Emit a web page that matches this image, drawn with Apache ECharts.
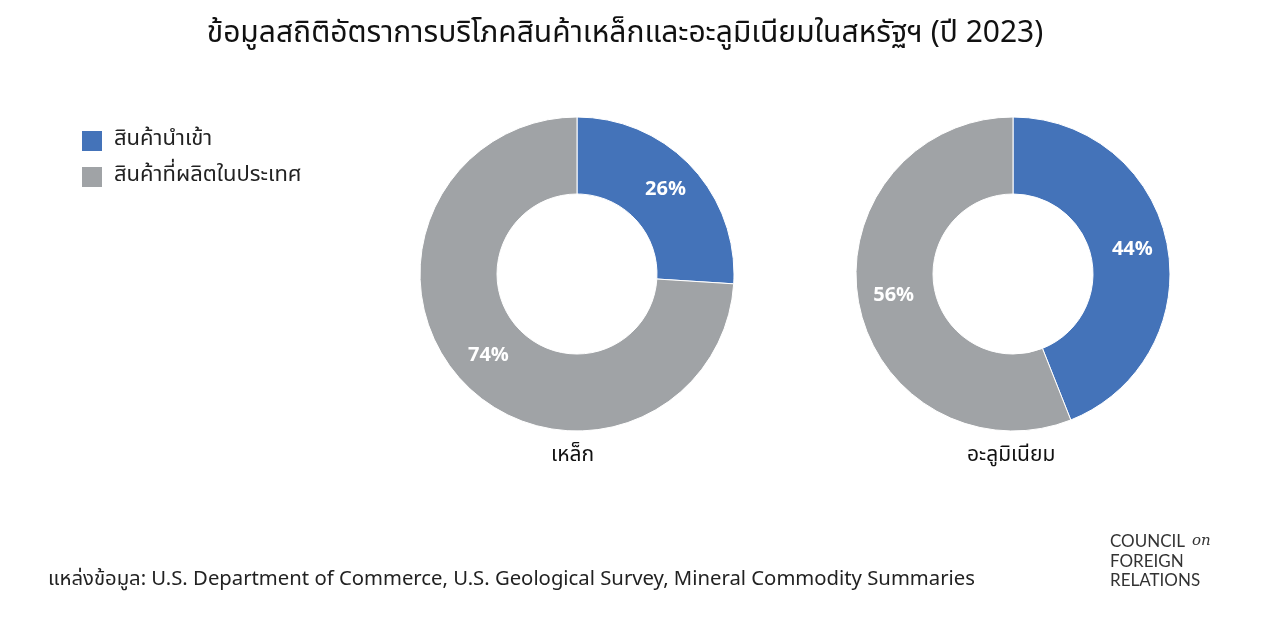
<!DOCTYPE html>
<html><head><meta charset="utf-8">
<script src="https://cdn.jsdelivr.net/npm/echarts@6/dist/echarts.min.js"></script>
<style>html,body{margin:0;background:#fff}#c{width:1280px;height:622px}</style>
</head><body><div id="c"></div>
<script>
const title = 'ข้อมูลสถิติอัตราการบริโภคสินค้าเหล็กและอะลูมิเนียมในสหรัฐฯ (ปี 2023)';
const categories = ['สินค้านำเข้า', 'สินค้าที่ผลิตในประเทศ'];
const materials = ['เหล็ก', 'อะลูมิเนียม'];
const steelValues = [26, 74];
const aluminumValues = [44, 56];
const source = 'แหล่งข้อมูล: U.S. Department of Commerce, U.S. Geological Survey, Mineral Commodity Summaries';
const FONT = '"Noto Sans Thai","Noto Sans","DejaVu Sans",sans-serif';
const colors = ['#4473b9', '#a0a3a6'];
function pie(values, cx) {
  return {
    type: 'pie', center: [cx, 274], radius: [80, 157], startAngle: 90, clockwise: true,
    silent: true, itemStyle: { borderColor: '#fff', borderWidth: 1 },
    label: { show: true, position: 'inside', formatter: '{c}%', color: '#fff', fontSize: 20, fontWeight: 'bold', fontFamily: FONT },
    labelLine: { show: false },
    data: values.map((v, i) => ({ name: categories[i], value: v }))
  };
}
const chart = echarts.init(document.getElementById('c'));
chart.setOption({
  color: colors,
  title: { text: title, left: 620, top: 16, textAlign: 'center', textStyle: { fontFamily: FONT, fontSize: 30, fontWeight: 'normal', color: '#111' } },
  legend: { orient: 'vertical', left: 75, top: 124, itemWidth: 22, itemHeight: 22, itemGap: 12, icon: 'rect',
    textStyle: { fontFamily: FONT, fontSize: 22, color: '#222', padding: [0, 0, 0, 6] }, data: categories },
  series: [pie(steelValues, 577), pie(aluminumValues, 1013)],
  graphic: [
    { type: 'text', left: 577 - 26, top: 446, style: { text: materials[0], font: '21px ' + FONT, fill: '#111' } },
    { type: 'text', left: 1013 - 46, top: 446, style: { text: materials[1], font: '21px ' + FONT, fill: '#111' } },
    { type: 'text', left: 48, top: 571, style: { text: source, font: '20.3px ' + FONT, fill: '#222' } },
    { type: 'text', left: 1110, top: 533, style: { text: 'COUNCIL', font: '17px Lato,sans-serif', fill: '#333' } },
    { type: 'text', left: 1192, top: 534, style: { text: 'on', font: 'italic 15px "DejaVu Serif",serif', fill: '#333' } },
    { type: 'text', left: 1110, top: 553, style: { text: 'FOREIGN', font: '17px Lato,sans-serif', fill: '#333' } },
    { type: 'text', left: 1110, top: 572, style: { text: 'RELATIONS', font: '17px Lato,sans-serif', fill: '#333' } }
  ]
});
</script></body></html>
